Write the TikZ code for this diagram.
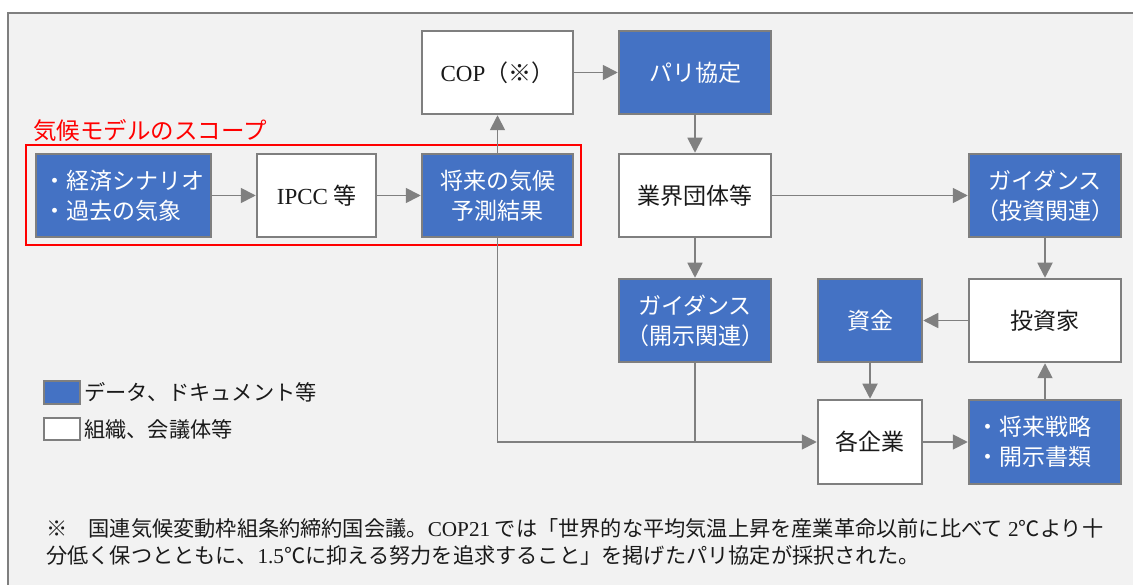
\documentclass[tikz,border=0pt]{standalone}
\usepackage{fontspec}
\setmainfont{Noto Sans CJK JP}
\newfontfamily\lat{Liberation Serif}
\usetikzlibrary{arrows.meta}
\definecolor{boxblue}{HTML}{4472C4}
\definecolor{bordergray}{HTML}{7F7F7F}
\definecolor{linegray}{HTML}{808080}
\definecolor{bggray}{HTML}{F2F2F2}
\definecolor{txt}{HTML}{1A1A1A}
\newcommand\boxfont{\fontsize{23}{30}\selectfont}
\newcommand\notefont{\fontsize{21.2}{27}\selectfont}
\tikzset{
  base/.style={draw=bordergray, line width=2.5pt, minimum height=83pt, inner sep=0pt, font=\boxfont, align=center},
  datab/.style={base, fill=boxblue, text=white},
  orgb/.style={base, fill=white, text=txt},
  conn/.style={draw=linegray, line width=1.8pt},
  arr/.style={conn, -{Triangle[length=15pt,width=15pt]}},
}
\begin{document}
\begin{tikzpicture}[x=1pt,y=-1pt]
\useasboundingbox (0,0) rectangle (1133,585);
\clip (0,0) rectangle (1133,585);
\fill[white] (0,0) rectangle (1133,585);
\draw[draw=bordergray, line width=2pt, fill=bggray] (8,13) rectangle (1160,610);

% scope frame
\draw[red, line width=2pt] (26,145) rectangle (581,245);
\node[anchor=west, text=red, font=\fontsize{23.5}{28}\selectfont, inner sep=0pt] (scope) at (33,131) {気候モデルのスコープ};

% nodes
\node[orgb, minimum width=151pt] (cop) at (497.5,72.5) {{\lat COP}（※）};
\node[datab, minimum width=152pt] (paris) at (695,72.5) {パリ協定};
\node[datab, minimum width=175pt, text width=160pt, inner xsep=7.5pt, align=left] (econ) at (123.5,195.5) {・経済シナリオ\\・過去の気象};
\node[orgb, minimum width=119pt] (ipcc) at (316.5,195.5) {{\lat IPCC} 等};
\node[datab, minimum width=151pt] (future) at (497.5,195.5) {将来の気候\\予測結果};
\node[orgb, minimum width=152pt] (industry) at (695,195.5) {業界団体等};
\node[datab, minimum width=152pt] (guideinv) at (1045,195.5) {ガイダンス\\（投資関連）};
\node[datab, minimum width=152pt] (guidedisc) at (695,320.5) {ガイダンス\\（開示関連）};
\node[datab, minimum width=104pt] (fund) at (870,320.5) {資金};
\node[orgb, minimum width=152pt] (investor) at (1045,320.5) {投資家};
\node[orgb, minimum width=104pt, minimum height=84pt] (company) at (870,442) {各企業};
\node[datab, minimum width=152pt, minimum height=84pt, text width=137pt, inner xsep=7.5pt, align=left] (strategy) at (1045,442) {・将来戦略\\・開示書類};

% connectors
\draw[arr] (econ) -- (ipcc);
\draw[arr] (ipcc) -- (future);
\draw[arr] (future) -- (cop);
\draw[arr] (cop) -- (paris);
\draw[arr] (paris) -- (industry);
\draw[arr] (industry) -- (guideinv);
\draw[arr] (industry) -- (guidedisc);
\draw[arr] (guideinv) -- (investor);
\draw[arr] (investor) -- (fund);
\draw[arr] (fund) -- (company);
\draw[arr] (company) -- (strategy);
\draw[arr] (strategy) -- (investor);
\draw[arr] (future.south) |- (company.west);
\draw[conn] (guidedisc.south) -- (guidedisc.south |- company.west);

% legend
\node[draw=bordergray, line width=2pt, fill=boxblue, minimum width=36pt, minimum height=23pt, inner sep=0pt] (legd) at (62,392.5) {};
\node[draw=bordergray, line width=1.5pt, fill=white, minimum width=36pt, minimum height=22pt, inner sep=0pt] (lego) at (62,429) {};
\node[anchor=west, inner sep=0pt, font=\notefont, text=txt] (legdt) at (84,392.5) {データ、ドキュメント等};
\node[anchor=west, inner sep=0pt, font=\notefont, text=txt] (legot) at (84,429) {組織、会議体等};

% footnote
\node[anchor=west, inner sep=0pt, font=\notefont, text=txt] (note1) at (46,528) {※　国連気候変動枠組条約締約国会議。{\lat COP21} では「世界的な平均気温上昇を産業革命以前に比べて{\lat\ 2}℃より十};
\node[anchor=west, inner sep=0pt, font=\notefont, text=txt] (note2) at (46,555) {分低く保つとともに、{\lat 1.5}℃に抑える努力を追求すること」を掲げたパリ協定が採択された。};
\end{tikzpicture}
\end{document}
